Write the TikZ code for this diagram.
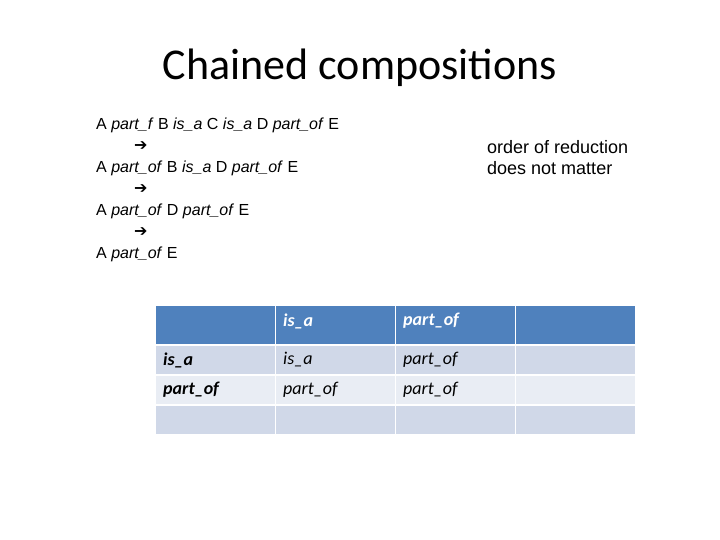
\documentclass[tikz,border=0pt]{standalone}
\usepackage{fontspec}
\setmainfont{Liberation Sans}
\newfontfamily\calib{Carlito}
\newfontfamily\djv{DejaVu Sans}
\definecolor{hdr}{HTML}{4F81BD}
\definecolor{rowa}{HTML}{D0D8E8}
\definecolor{rowb}{HTML}{E9EDF4}
\begin{document}
\begin{tikzpicture}[x=1pt,y=-1pt,
  txt/.style={anchor=west,inner sep=0,font=\fontsize{16}{18}\selectfont},
  arr/.style={anchor=west,inner sep=0,font=\djv\bfseries\fontsize{16}{18}\selectfont},
  ctxt/.style={anchor=west,inner sep=0,font=\calib\fontsize{18}{20}\selectfont\itshape},
  btxt/.style={anchor=west,inner sep=0,font=\calib\fontsize{18}{20}\selectfont\bfseries\itshape}]
\useasboundingbox (0,0) rectangle (720,540);
\node[inner sep=0,font=\calib\fontsize{44}{48}\selectfont] (title) at (360,68) {Chained compositions};
\node[txt] (l1) at (96,125) {A \textit{part\_f} B \textit{is\_a} C \textit{is\_a} D \textit{part\_of} E};
\node[arr] (a1) at (134,146) {➔};
\node[txt] (l2) at (96,168) {A \textit{part\_of} B \textit{is\_a} D \textit{part\_of} E};
\node[arr] (a2) at (134,189) {➔};
\node[txt] (l3) at (96,211) {A \textit{part\_of} D \textit{part\_of} E};
\node[arr] (a3) at (134,232) {➔};
\node[txt] (l4) at (96,254) {A \textit{part\_of} E};
\node[txt,font=\fontsize{18}{20}\selectfont] (n1) at (487,147) {order of reduction};
\node[txt,font=\fontsize{18}{20}\selectfont] (n2) at (487,168) {does not matter};
% table
\foreach \x in {156,276,396,516}{
  \fill[hdr] (\x,306) rectangle ++(119,38);
  \fill[rowa] (\x,346) rectangle ++(119,28);
  \fill[rowb] (\x,376) rectangle ++(119,28);
  \fill[rowa] (\x,406) rectangle ++(119,28);
}
\node[btxt,text=white] (h1) at (283,321) {is\_a};
\node[btxt,text=white] (h2) at (403,321) {part\_of};
\node[btxt] (r1) at (163,360) {is\_a};
\node[btxt] (r2) at (163,390) {part\_of};
\node[ctxt] (c11) at (283,360) {is\_a};
\node[ctxt] (c12) at (403,360) {part\_of};
\node[ctxt] (c21) at (283,390) {part\_of};
\node[ctxt] (c22) at (403,390) {part\_of};
\end{tikzpicture}
\end{document}
